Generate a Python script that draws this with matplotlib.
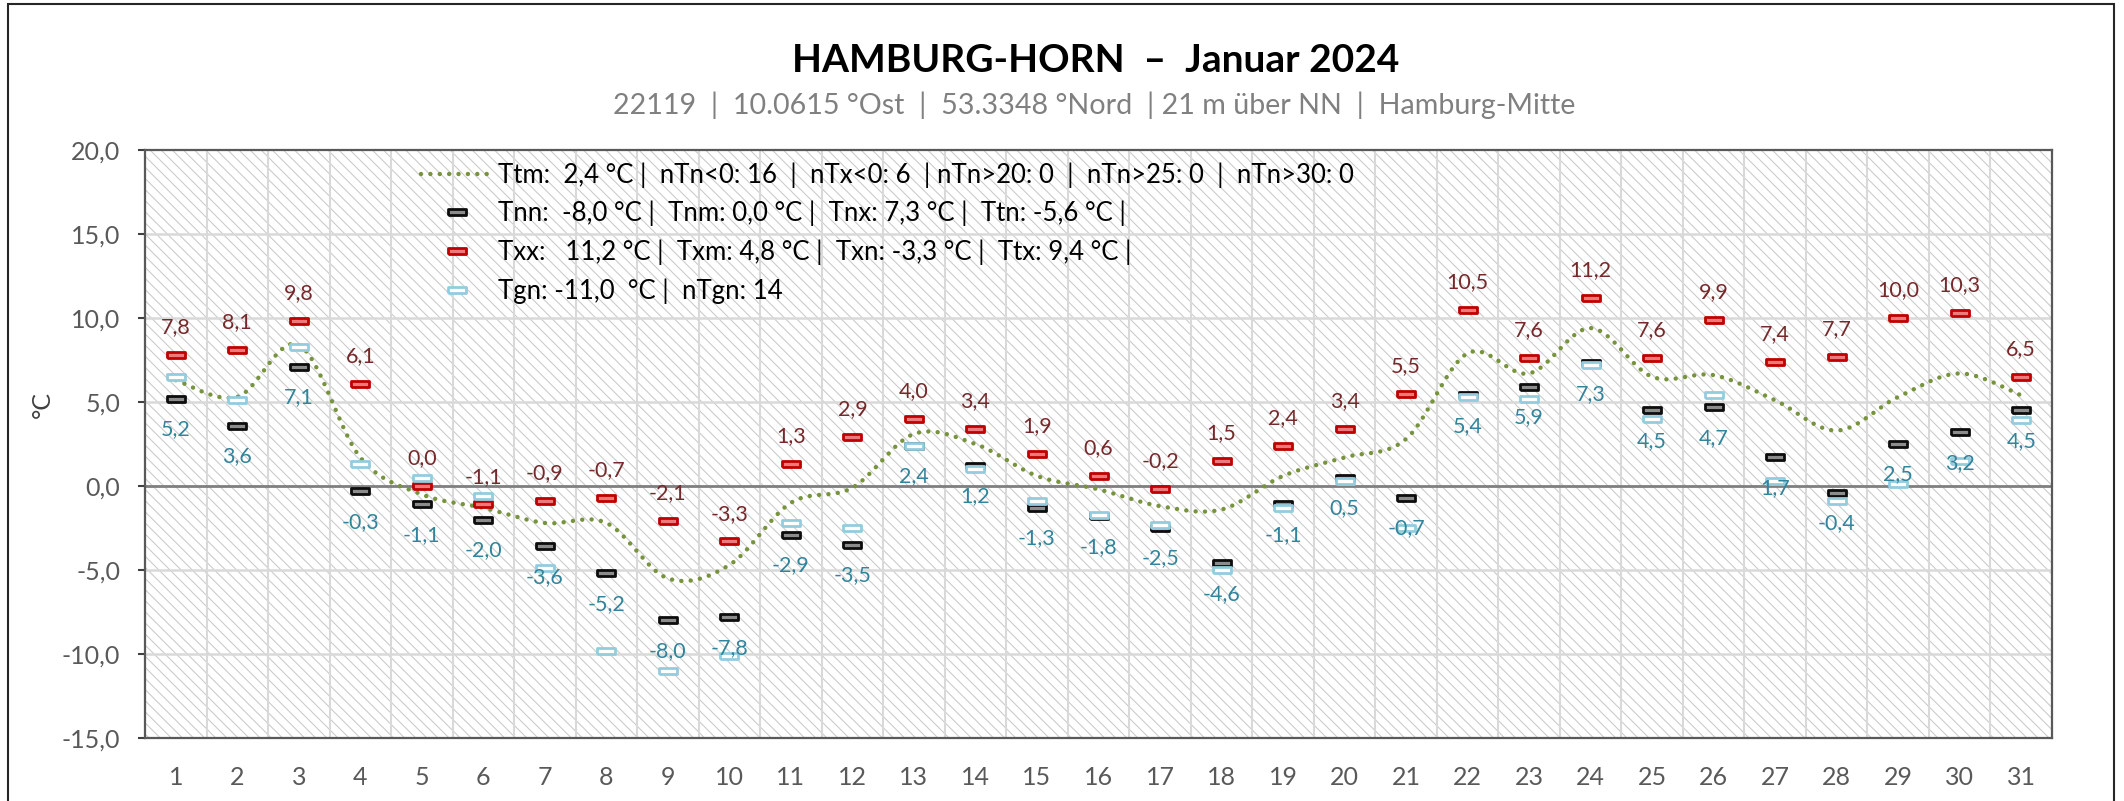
import numpy as np
import matplotlib
matplotlib.use("Agg")
import matplotlib.pyplot as plt
from matplotlib.lines import Line2D
from matplotlib.patches import Rectangle

plt.rcParams["font.family"] = ["Lato", "DejaVu Sans"]
plt.rcParams["hatch.linewidth"] = 0.75

days = list(range(1, 32))
# daily max temperature (red)
tx = [7.8, 8.1, 9.8, 6.1, 0.0, -1.1, -0.9, -0.7, -2.1, -3.3, 1.3, 2.9, 4.0, 3.4, 1.9, 0.6,
      -0.2, 1.5, 2.4, 3.4, 5.5, 10.5, 7.6, 11.2, 7.6, 9.9, 7.4, 7.7, 10.0, 10.3, 6.5]
# daily min temperature (black)
tn = [5.2, 3.6, 7.1, -0.3, -1.1, -2.0, -3.6, -5.2, -8.0, -7.8, -2.9, -3.5, 2.4, 1.2, -1.3, -1.8,
      -2.5, -4.6, -1.1, 0.5, -0.7, 5.4, 5.9, 7.3, 4.5, 4.7, 1.7, -0.4, 2.5, 3.2, 4.5]
# ground min temperature (light blue)
tg = [6.5, 5.1, 8.3, 1.3, 0.5, -0.6, -4.9, -9.8, -11.0, -10.1, -2.2, -2.5, 2.4, 1.0, -0.9, -1.7,
      -2.3, -5.0, -1.3, 0.3, -2.5, 5.3, 5.2, 7.2, 4.0, 5.4, 0.3, -0.9, 0.1, 1.5, 3.9]
# daily mean temperature (green dotted)
tm = [6.3, 5.3, 8.4, 1.7, -0.5, -1.3, -2.2, -2.2, -5.5, -4.7, -1.0, -0.1, 3.1, 2.5, 0.6, -0.2,
      -1.2, -1.4, 0.6, 1.7, 2.8, 7.9, 6.7, 9.4, 6.5, 6.6, 5.1, 3.3, 5.3, 6.7, 5.4]

title = "HAMBURG-HORN  \u2013  Januar 2024"
subtitle = "22119  |  10.0615 °Ost  |  53.3348 °Nord  | 21 m über NN  |  Hamburg-Mitte"
legend_labels = [
    "Ttm:  2,4 °C |  nTn<0: 16  |  nTx<0: 6  | nTn>20: 0  |  nTn>25: 0  |  nTn>30: 0",
    "Tnn:  -8,0 °C |  Tnm: 0,0 °C |  Tnx: 7,3 °C |  Ttn: -5,6 °C |",
    "Txx:   11,2 °C |  Txm: 4,8 °C |  Txn: -3,3 °C |  Ttx: 9,4 °C |",
    "Tgn: -11,0  °C |  nTgn: 14",
]

GREEN = "#77933c"
RED = "#c00000"
RED_TXT = "#76292b"
TEAL_TXT = "#31849b"
LIGHTBLUE = "#93cddd"


def catmull_rom(x, y, n=20):
    pts = np.column_stack([x, y]).astype(float)
    p = np.vstack([pts[0], pts, pts[-1]])
    t = np.linspace(0, 1, n, endpoint=False)[:, None]
    out = []
    for i in range(len(pts) - 1):
        p0, p1, p2, p3 = p[i], p[i + 1], p[i + 2], p[i + 3]
        seg = 0.5 * ((2 * p1) + (-p0 + p2) * t + (2 * p0 - 5 * p1 + 4 * p2 - p3) * t ** 2
                     + (-p0 + 3 * p1 - 3 * p2 + p3) * t ** 3)
        out.append(seg)
    out.append(pts[-1][None, :])
    out = np.vstack(out)
    return out[:, 0], out[:, 1]


rect = [(-1.6, -0.5), (1.6, -0.5), (1.6, 0.5), (-1.6, 0.5), (-1.6, -0.5)]
mstyle = dict(ls="none", marker=rect, ms=13, mew=2.0)
tn_style = dict(mfc="#8c8c8c", mec="#0d0d0d")
tx_style = dict(mfc="#ec7a7a", mec=RED)
tg_style = dict(mfc="white", mec=LIGHTBLUE)

fig = plt.figure(figsize=(21.24, 8.01), dpi=100)
ax = fig.add_axes([145 / 2124, 1 - 738 / 801, 1907 / 2124, 588 / 801])

# hatched background
ax.add_patch(Rectangle((0, 0), 1, 1, transform=ax.transAxes, facecolor="white",
                       edgecolor="#c9c9c9", hatch="\\\\\\", lw=0, zorder=0))

ax.set_xlim(0.5, 31.5)
ax.set_ylim(-15, 20)

for xv in np.arange(1.5, 31.5, 1):
    ax.axvline(xv, color="#d9d9d9", lw=1.5, zorder=1)
for yv in [-10, -5, 5, 10, 15]:
    ax.axhline(yv, color="#d9d9d9", lw=1.8, zorder=1)
ax.axhline(0, color="#7f7f7f", lw=2.0, zorder=2)

sx, sy = catmull_rom(days, tm)
ax.plot(sx, sy, color=GREEN, lw=3.2, ls=(0, (0.01, 2.1)), dash_capstyle="round", zorder=3)

ax.plot(days, tn, zorder=4, **tn_style, **mstyle)
ax.plot(days, tx, zorder=4, **tx_style, **mstyle)
ax.plot(days, tg, zorder=5, **tg_style, **mstyle)

for d, v in zip(days, tx):
    ax.annotate(f"{v:.1f}".replace(".", ","), (d, v), xytext=(0, 20), textcoords="offset points",
                ha="center", va="center", fontsize=15.5, color=RED_TXT, zorder=6)
for d, v in zip(days, tn):
    ax.annotate(f"{v:.1f}".replace(".", ","), (d, v), xytext=(0, -22), textcoords="offset points",
                ha="center", va="center", fontsize=15.5, color=TEAL_TXT, zorder=6)

ax.set_xticks(days)
ax.set_xticklabels([str(d) for d in days])
ax.set_yticks(np.arange(-15, 21, 5))
ax.set_yticklabels([f"{v:.1f}".replace(".", ",") for v in np.arange(-15, 21, 5)])
ax.tick_params(axis="x", length=0, pad=20, labelsize=18, labelcolor="#595959")
ax.tick_params(axis="y", length=5, width=1.5, pad=13, labelsize=18, labelcolor="#595959",
               color="#404040")
for s in ax.spines.values():
    s.set_color("#595959")
    s.set_linewidth(1.6)
    s.set_zorder(7)

handles = [
    Line2D([], [], color=GREEN, lw=3.2, ls=(0, (0.01, 2.1)), dash_capstyle="round"),
    Line2D([], [], **tn_style, **mstyle),
    Line2D([], [], **tx_style, **mstyle),
    Line2D([], [], **tg_style, **mstyle),
]
ax.legend(handles, legend_labels, loc="upper left", bbox_to_anchor=(421 / 2124, 1 - 162 / 801),
          bbox_transform=fig.transFigure, frameon=False, fontsize=18.5, handlelength=2.8,
          handletextpad=0.2, labelspacing=0.52, borderpad=0, borderaxespad=0)

fig.text(1096 / 2124, 1 - 60 / 801, title, ha="center", va="center", fontsize=28,
         fontweight="bold", color="black")
fig.text(1094 / 2124, 1 - 105 / 801, subtitle, ha="center", va="center", fontsize=20.6,
         color="#808080")
fig.text(42 / 2124, 1 - 405 / 801, "°C", rotation=90, ha="center", va="center", fontsize=18,
         color="#404040")

# outer chart frame
fig.patches.append(Rectangle((8 / 2124, -0.02), 2106 / 2124, 1.02 - 4 / 801, transform=fig.transFigure,
                             fill=False, edgecolor="#262626", lw=1.5))

fig.savefig("out.png", dpi=100)
